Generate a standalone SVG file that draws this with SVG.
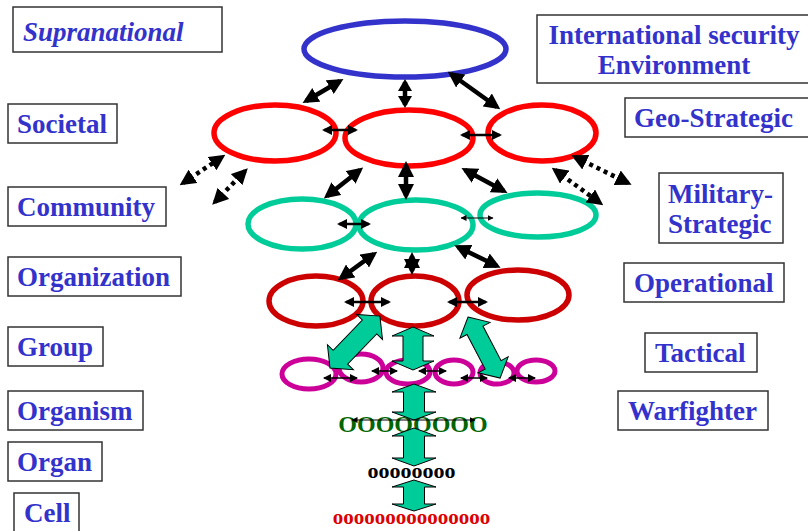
<svg xmlns="http://www.w3.org/2000/svg" width="808" height="531" viewBox="0 0 808 531">
  <defs>
    <style>
      .lbl { fill: #3333CC; font-family: "Liberation Serif", "Times New Roman", serif; font-weight: bold; font-size: 27px; }
      .box { fill: #FFFFFF; stroke: #333333; stroke-width: 1.5; }
      .ring { fill: none; }
      .blue { stroke: #3333CC; stroke-width: 5.5; }
      .red { stroke: #FF0000; stroke-width: 5.5; }
      .teal { stroke: #00CC99; stroke-width: 5.5; }
      .dred { stroke: #CC0000; stroke-width: 5.5; }
      .mag { stroke: #CC0099; stroke-width: 5; }
      .block { fill: #00CC99; stroke: #000000; stroke-width: 1; stroke-linejoin: miter; }
      .thick { fill: none; stroke: #000000; stroke-width: 4.5; marker-start: url(#big); marker-end: url(#big); }
      .stub { fill: none; stroke: #000000; stroke-width: 4.5; marker-start: url(#bigs); marker-end: url(#bigs); }
      .dotted { fill: none; stroke: #000000; stroke-width: 4.5; stroke-dasharray: 4 4; marker-start: url(#big); marker-end: url(#big); }
      .link { fill: none; stroke: #000000; stroke-width: 2.5; marker-start: url(#mid); marker-end: url(#mid); }
      .fine { fill: none; stroke: #000000; stroke-width: 1.5; marker-start: url(#small); marker-end: url(#small); }
      .hair { fill: none; stroke: #000000; stroke-width: 1; marker-start: url(#tiny); marker-end: url(#tiny); }
      .seq { font-family: "Liberation Serif", "Times New Roman", serif; font-weight: bold; text-anchor: middle; }
    </style>
    <marker id="big" viewBox="0 0 16 16" markerWidth="16" markerHeight="16" refX="12" refY="8" orient="auto-start-reverse" markerUnits="userSpaceOnUse">
      <path d="M0,0 L16,8 L0,16 z" fill="#000000"/>
    </marker>
    <marker id="bigs" viewBox="0 0 12 14" markerWidth="12" markerHeight="14" refX="9" refY="7" orient="auto-start-reverse" markerUnits="userSpaceOnUse">
      <path d="M0,0 L12,7 L0,14 z" fill="#000000"/>
    </marker>
    <marker id="mid" viewBox="0 0 10 10" markerWidth="10" markerHeight="10" refX="8" refY="5" orient="auto-start-reverse" markerUnits="userSpaceOnUse">
      <path d="M0,0 L10,5 L0,10 z" fill="#000000"/>
    </marker>
    <marker id="small" viewBox="0 0 8 8" markerWidth="8" markerHeight="8" refX="7" refY="4" orient="auto-start-reverse" markerUnits="userSpaceOnUse">
      <path d="M0,0 L8,4 L0,8 z" fill="#000000"/>
    </marker>
    <marker id="tiny" viewBox="0 0 6 6" markerWidth="6" markerHeight="6" refX="5.5" refY="3" orient="auto-start-reverse" markerUnits="userSpaceOnUse">
      <path d="M0,0 L6,3 L0,6 z" fill="#000000"/>
    </marker>
  </defs>

  <rect width="808" height="531" fill="#FFFFFF"/>

  <!-- left scale labels -->
  <g id="supranational">
    <rect class="box" x="13" y="7" width="209" height="45"/>
    <text class="lbl" x="23" y="41" font-style="italic" font-size="32">Supranational</text>
  </g>
  <g id="societal">
    <rect class="box" x="8" y="104" width="109" height="39"/>
    <text class="lbl" x="17" y="133">Societal</text>
  </g>
  <g id="community">
    <rect class="box" x="8" y="187" width="158" height="39"/>
    <text class="lbl" x="17" y="216">Community</text>
  </g>
  <g id="organization">
    <rect class="box" x="8" y="257" width="173" height="39"/>
    <text class="lbl" x="17" y="286">Organization</text>
  </g>
  <g id="group">
    <rect class="box" x="8" y="327" width="95" height="39"/>
    <text class="lbl" x="17" y="356">Group</text>
  </g>
  <g id="organism">
    <rect class="box" x="8" y="391" width="135" height="39"/>
    <text class="lbl" x="17" y="420">Organism</text>
  </g>
  <g id="organ">
    <rect class="box" x="8" y="442" width="94" height="39"/>
    <text class="lbl" x="17" y="471">Organ</text>
  </g>
  <g id="cell">
    <rect class="box" x="14" y="493" width="65" height="45"/>
    <text class="lbl" x="24" y="522">Cell</text>
  </g>

  <!-- right scale labels -->
  <g id="international">
    <rect class="box" x="537" y="15" width="276" height="68"/>
    <text class="lbl" x="674" y="44" text-anchor="middle">International security</text>
    <text class="lbl" x="674" y="74" text-anchor="middle">Environment</text>
  </g>
  <g id="geo-strategic">
    <rect class="box" x="625" y="98" width="188" height="39"/>
    <text class="lbl" x="634" y="127">Geo-Strategic</text>
  </g>
  <g id="military-strategic">
    <rect class="box" x="659" y="173" width="124" height="70"/>
    <text class="lbl" x="668" y="203">Military-</text>
    <text class="lbl" x="668" y="233">Strategic</text>
  </g>
  <g id="operational">
    <rect class="box" x="624" y="263" width="160" height="39"/>
    <text class="lbl" x="634" y="292">Operational</text>
  </g>
  <g id="tactical">
    <rect class="box" x="645" y="333" width="112" height="39"/>
    <text class="lbl" x="655" y="362">Tactical</text>
  </g>
  <g id="warfighter">
    <rect class="box" x="618" y="391" width="150" height="39"/>
    <text class="lbl" x="628" y="420">Warfighter</text>
  </g>

  <!-- nested levels -->
  <g id="level-environment">
    <ellipse class="ring blue" cx="405" cy="49" rx="101" ry="28"/>
  </g>
  <g id="level-geostrategic">
    <ellipse class="ring red" cx="275" cy="133" rx="61" ry="28"/>
    <ellipse class="ring red" cx="409" cy="138" rx="64" ry="28"/>
    <ellipse class="ring red" cx="542" cy="133" rx="54" ry="28"/>
  </g>
  <g id="level-military">
    <ellipse class="ring teal" cx="302" cy="224" rx="54" ry="25"/>
    <ellipse class="ring teal" cx="416" cy="225" rx="57" ry="25"/>
    <ellipse class="ring teal" cx="538" cy="215" rx="58" ry="22"/>
  </g>
  <g id="level-operational">
    <ellipse class="ring dred" cx="316" cy="301" rx="47" ry="25"/>
    <ellipse class="ring dred" cx="415" cy="301" rx="44" ry="25"/>
    <ellipse class="ring dred" cx="518" cy="295" rx="51" ry="25"/>
  </g>
  <g id="level-tactical">
    <ellipse class="ring mag" cx="309" cy="374" rx="27" ry="15"/>
    <ellipse class="ring mag" cx="361" cy="368" rx="22" ry="14"/>
    <ellipse class="ring mag" cx="408" cy="372" rx="22" ry="12"/>
    <ellipse class="ring mag" cx="454" cy="372" rx="19" ry="12"/>
    <ellipse class="ring mag" cx="497" cy="373" rx="17" ry="11"/>
    <ellipse class="ring mag" cx="536" cy="371" rx="19" ry="11"/>
  </g>
  <g id="level-organism">
    <text class="seq" x="413" y="432" font-size="24" fill="#006600">OOOOOOOO</text>
  </g>
  <g id="level-organ">
    <text class="seq" x="411.5" y="478" font-size="22" fill="#000000">oooooooo</text>
  </g>
  <g id="level-cell">
    <text class="seq" x="411.5" y="524" font-size="21" fill="#DD0000">ooooooooooooooo</text>
  </g>

  <!-- connectors -->
  <g id="connectors">
    <!-- wide two-way block arrows -->
    <polygon class="block" transform="translate(330,368) rotate(-46.1)" points="0,0 15,-18 15,-10 57,-10 57,-18 72,0 57,18 57,10 15,10 15,18"/>
    <polygon class="block" transform="translate(468,317) rotate(62.3)" points="0,0 15,-17 15,-9 54,-9 54,-17 69,0 54,17 54,9 15,9 15,17"/>
    <polygon class="block" transform="translate(413,327) rotate(90)" points="0,0 9,-21 9,-10 34,-10 34,-21 43,0 34,21 34,10 9,10 9,21"/>
    <polygon class="block" transform="translate(414,384) rotate(90)" points="0,0 8,-22 8,-10.5 28,-10.5 28,-22 36,0 28,22 28,10.5 8,10.5 8,22"/>
    <polygon class="block" transform="translate(414,428) rotate(90)" points="0,0 8,-22 8,-10.5 30,-10.5 30,-22 38,0 30,22 30,10.5 8,10.5 8,22"/>
    <polygon class="block" transform="translate(414,480) rotate(90)" points="0,0 7,-22 7,-10.5 24,-10.5 24,-22 31,0 24,22 24,10.5 7,10.5 7,22"/>

    <!-- between levels -->
    <path class="thick" d="M306,101 L340,81"/>
    <path class="stub" d="M405,82 L405,105"/>
    <path class="thick" d="M451,74 L497,107"/>
    <path class="thick" d="M327,196 L360,170"/>
    <path class="thick" d="M406,165 L406,196"/>
    <path class="thick" d="M465,170 L504,191"/>
    <path class="thick" d="M341,278 L374,254"/>
    <path class="thick" d="M412,256 L412,271"/>
    <path class="thick" d="M458,247 L497,266"/>

    <!-- outward links -->
    <path class="dotted" d="M183,183 L222,157"/>
    <path class="dotted" d="M215,202 L245,171"/>
    <path class="dotted" d="M575,157 L628,183"/>
    <path class="dotted" d="M555,170 L600,203"/>

    <!-- within a level -->
    <path class="link" d="M324,130 L356,130"/>
    <path class="link" d="M462,135 L500,135"/>
    <path class="link" d="M339,224 L369,224"/>
    <path class="hair" d="M461,218 L493,218"/>
    <path class="link" d="M346,302 L389,302"/>
    <path class="link" d="M449,302 L486,302"/>
    <path class="fine" d="M324,378 L357,378"/>
    <path class="fine" d="M372,371 L397,371"/>
    <path class="fine" d="M419,371 L446,371"/>
    <path class="fine" d="M461,378 L487,378"/>
    <path class="fine" d="M509,378 L535,378"/>
    <path class="hair" d="M352,420 L475,420"/>
  </g>
</svg>
